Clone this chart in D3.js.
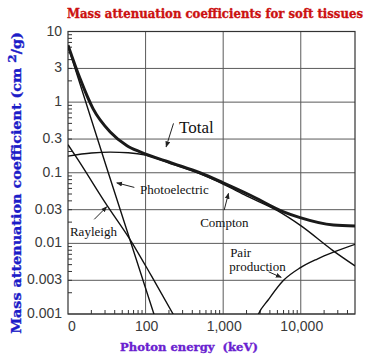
<!DOCTYPE html>
<html>
<head>
<meta charset="utf-8">
<script src="https://cdn.jsdelivr.net/npm/d3@7/dist/d3.min.js"></script>
<style>
  html, body { margin: 0; padding: 0; background: #fff; }
  svg { display: block; }
</style>
</head>
<body>
<svg id="chart" width="368" height="362"></svg>
<script>
// ---------------- data ----------------
const xTicks = [10, 100, 1000, 10000];
const xTickLabels = ["0", "100", "1,000", "10,000"];
const yTicks = [10, 3, 1, 0.3, 0.1, 0.03, 0.01, 0.003, 0.001];
const yTickLabels = ["10", "3", "1", "0.3", "0.1", "0.03", "0.01", "0.003", "0.001"];

const totalE = [10, 14.3, 21, 35, 57, 85, 229, 500, 1000, 2240, 6000, 9800, 26400, 50000];
const totalV = [6.4, 2.15, 0.81, 0.378, 0.244, 0.197, 0.135, 0.1, 0.072, 0.048, 0.028, 0.0232, 0.0182, 0.0176];

const comptonE = [10, 20, 35, 60, 100, 200, 500, 1000, 2000, 5000, 10000, 26000, 50000];
const comptonV = [0.172, 0.19, 0.196, 0.192, 0.178, 0.137, 0.097, 0.069, 0.047, 0.029, 0.0178, 0.0079, 0.0048];

const photoE = [10, 31.6, 128, 140];
const photoV = [6.2, 0.117, 0.001, 0.00075];

const rayleighE = [10, 13.5, 30, 67, 120, 226, 250];
const rayleighV = [0.25, 0.152, 0.038, 0.0102, 0.0034, 0.001, 0.00082];

const pairE = [2400, 2850, 3800, 6000, 9800, 16300, 26400, 50000];
const pairV = [0.0006, 0.001, 0.00158, 0.003, 0.0045, 0.006, 0.0075, 0.0097];

// annotation labels (data coordinates: energy keV, value)
const labelNames = ["Total", "Photoelectric", "Rayleigh", "Compton", "Pair", "production"];
const labelAt = [[270, 0.365], [85, 0.05], [10.6, 0.0127], [505, 0.0172], [1230, 0.00645], [1200, 0.00406]];
const labelSize = [17, 13, 13, 13, 13, 13];
const arrowFrom = [[229, 0.50], [71.6, 0.062], [21.8, 0.0219], [1030, 0.0296], [3850, 0.00396]];
const arrowTo = [[184, 0.233], [42.5, 0.072], [31.6, 0.033], [1170, 0.051], [5600, 0.0033]];

// ---------------- chart ----------------
const svg = d3.select("#chart");
const L = 68, R = 355, T = 31.5, B = 314;
const x = d3.scaleLog().domain([10, 50000]).range([L, R]);
const y = d3.scaleLog().domain([0.001, 10]).range([B, T]);

const gridColor = "#5a5a5a";

// minor ticks
const minorX = [];
for (let d = 10; d <= 10000; d *= 10) for (let k = 2; k <= 9; k++) if (d * k < 50000) minorX.push(d * k);
const minorY = [];
for (let d = 0.001; d < 10; d *= 10) for (let k = 2; k <= 9; k++) minorY.push(+(d * k).toPrecision(3));

const grid = svg.append("g");
grid.selectAll("line.h").data(yTicks).join("line")
  .attr("x1", L).attr("x2", R)
  .attr("y1", d => y(d)).attr("y2", d => y(d))
  .attr("stroke", gridColor).attr("stroke-width", 1);
grid.selectAll("line.v").data(xTicks.slice(1)).join("line")
  .attr("y1", T).attr("y2", B)
  .attr("x1", d => x(d)).attr("x2", d => x(d))
  .attr("stroke", gridColor).attr("stroke-width", 1);

grid.append("rect").attr("x", L).attr("y", T).attr("width", R - L).attr("height", B - T)
  .attr("fill", "none").attr("stroke", "#333").attr("stroke-width", 1.2);

grid.selectAll("line.mx").data(minorX).join("line")
  .attr("x1", d => x(d)).attr("x2", d => x(d))
  .attr("y1", B).attr("y2", B - 4)
  .attr("stroke", "#333").attr("stroke-width", 1);
grid.selectAll("line.my").data(minorY).join("line")
  .attr("y1", d => y(d)).attr("y2", d => y(d))
  .attr("x1", L).attr("x2", L + 4)
  .attr("stroke", "#333").attr("stroke-width", 1);

// tick labels
svg.append("g").selectAll("text").data(yTicks).join("text")
  .attr("x", 62).attr("y", d => y(d) + 4)
  .attr("text-anchor", "end")
  .attr("font-family", "'Liberation Sans', Arial, sans-serif")
  .attr("font-size", 14).attr("fill", "#3a3a3a")
  .text((d, i) => yTickLabels[i]);

svg.append("g").selectAll("text").data(xTicks).join("text")
  .attr("x", d => x(d) + (d === 10 ? 4 : 1)).attr("y", 331)
  .attr("text-anchor", "middle")
  .attr("font-family", "'Liberation Sans', Arial, sans-serif")
  .attr("font-size", 14).attr("fill", "#3a3a3a")
  .text((d, i) => xTickLabels[i]);

// curves
svg.append("defs").append("clipPath").attr("id", "plotclip")
  .append("rect").attr("x", L).attr("y", T - 2).attr("width", R - L).attr("height", B - T + 2);

const line = d3.line().x(d => x(d[0])).y(d => y(d[1])).curve(d3.curveMonotoneX);
const lineStraight = d3.line().x(d => x(d[0])).y(d => y(d[1]));
const zip = (a, b) => a.map((v, i) => [v, b[i]]);

const curves = svg.append("g").attr("clip-path", "url(#plotclip)");
curves.append("path").datum(zip(comptonE, comptonV)).attr("d", line)
  .attr("fill", "none").attr("stroke", "#111").attr("stroke-width", 1.4);
curves.append("path").datum(zip(photoE, photoV)).attr("d", lineStraight)
  .attr("fill", "none").attr("stroke", "#111").attr("stroke-width", 1.4);
curves.append("path").datum(zip(rayleighE, rayleighV)).attr("d", line)
  .attr("fill", "none").attr("stroke", "#111").attr("stroke-width", 1.4);
curves.append("path").datum(zip(pairE, pairV)).attr("d", line)
  .attr("fill", "none").attr("stroke", "#111").attr("stroke-width", 1.4);
curves.append("path").datum(zip(totalE, totalV)).attr("d", line)
  .attr("fill", "none").attr("stroke", "#1a1a1a").attr("stroke-width", 3);

// arrows
svg.select("defs").append("marker").attr("id", "ah")
  .attr("viewBox", "0 0 10 10").attr("refX", 9).attr("refY", 5)
  .attr("markerWidth", 6).attr("markerHeight", 6).attr("orient", "auto")
  .attr("markerUnits", "userSpaceOnUse")
  .append("path").attr("d", "M0,1 L10,5 L0,9 Z").attr("fill", "#222");

svg.append("g").selectAll("line").data(arrowFrom).join("line")
  .attr("x1", d => x(d[0])).attr("y1", d => y(d[1]))
  .attr("x2", (d, i) => x(arrowTo[i][0])).attr("y2", (d, i) => y(arrowTo[i][1]))
  .attr("stroke", "#222").attr("stroke-width", 1)
  .attr("marker-end", "url(#ah)");

svg.append("g").selectAll("text").data(labelNames).join("text")
  .attr("x", (d, i) => x(labelAt[i][0])).attr("y", (d, i) => y(labelAt[i][1]))
  .attr("font-family", "'Liberation Serif', 'Times New Roman', serif")
  .attr("font-size", (d, i) => labelSize[i]).attr("fill", "#111")
  .text(d => d);

// titles: size by glyph height, then stretch horizontally to the reference width
const titleFont = "'DejaVu Serif', 'Liberation Serif', serif";
function stretched(tx, ty, rot, size, color, target) {
  const g = svg.append("g").attr("transform", `translate(${tx},${ty}) rotate(${rot})`);
  const t = g.append("text").attr("x", 0).attr("y", 0).attr("text-anchor", "middle")
    .attr("font-family", titleFont).attr("font-weight", "bold")
    .attr("font-size", size).attr("fill", color)
    .attr("stroke", color).attr("stroke-width", 0.35)
    .attr("xml:space", "preserve");
  return { g, t, finish() {
    const w = t.node().getComputedTextLength();
    t.attr("transform", `scale(${(target / w).toFixed(4)},1)`);
  } };
}

const ti = stretched(215, 17.5, 0, 12.3, "#cc1111", 296);
ti.t.text("Mass attenuation coefficients for soft tissues");
ti.finish();

const xl = stretched(189, 351, 0, 11.5, "#6a1fd0", 138);
xl.t.text("Photon energy  (keV)");
xl.finish();

const yl = stretched(20.5, 183, -90, 12.5, "#1c1cc8", 302);
yl.t.append("tspan").text("Mass attenuation coefficient (cm ");
yl.t.append("tspan").attr("dy", -5).attr("font-size", "0.85em").text("2");
yl.t.append("tspan").attr("dy", 5).text("/g)");
yl.finish();
</script>
</body>
</html>
